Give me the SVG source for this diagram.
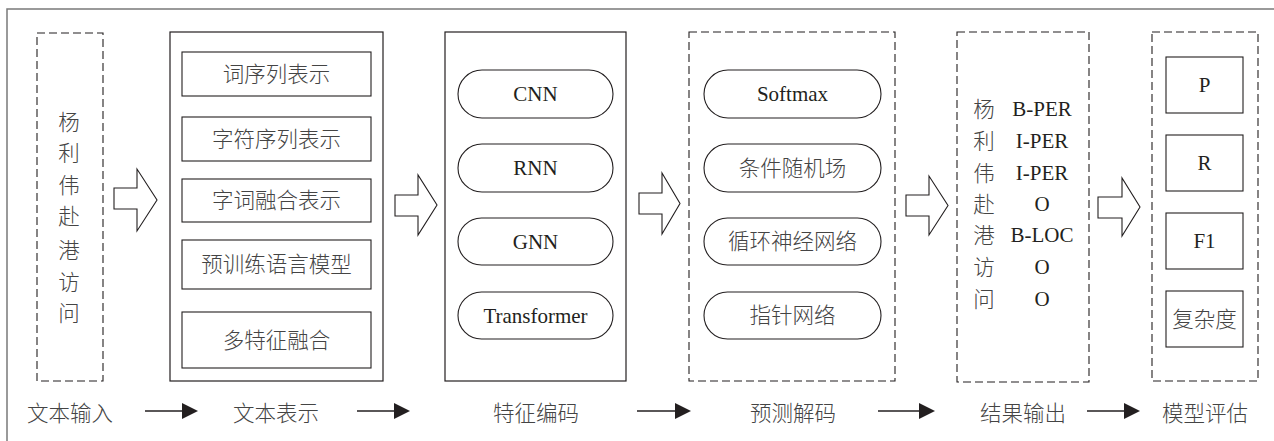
<svg xmlns="http://www.w3.org/2000/svg" width="1274" height="441" viewBox="0 0 1274 441">
  <style>
    .frame { fill: none; stroke: #7a7a7a; stroke-width: 1.5; }
    .solid { fill: #ffffff; stroke: #231f20; stroke-width: 1.2; }
    .dash { fill: #ffffff; stroke: #231f20; stroke-width: 1.1; stroke-dasharray: 8 4; }
    .item { fill: #ffffff; stroke: #231f20; stroke-width: 1.1; }
    .flow { fill: #ffffff; stroke: #231f20; stroke-width: 1.1; stroke-linejoin: miter; }
    .cn { font-family: "Noto Sans CJK SC", "Noto Sans", sans-serif; font-size: 21.5px; font-weight: 300; fill: #444444; text-anchor: middle; }
    .en { font-family: "Liberation Serif", "Times New Roman", serif; font-size: 21px; fill: #231f20; text-anchor: middle; }
    .line { stroke: #231f20; stroke-width: 1.5; fill: none; }
  </style>
  <defs>
    <marker id="tri" viewBox="0 0 16 16" refX="0" refY="8" markerWidth="16" markerHeight="16" markerUnits="userSpaceOnUse" orient="auto">
      <path d="M0,0 L16,8 L0,16 Z" fill="#231f20"/>
    </marker>
  </defs>

  <rect width="1274" height="441" fill="#ffffff"/>
  <!-- outer frame -->
  <rect class="frame" x="7" y="9" width="1290" height="460"/>

  <!-- input text -->
  <g id="input">
    <rect class="dash" x="37" y="33" width="66" height="348"/>
    <text class="cn" x="69" y="130">杨</text>
    <text class="cn" x="69" y="161">利</text>
    <text class="cn" x="69" y="193">伟</text>
    <text class="cn" x="69" y="224">赴</text>
    <text class="cn" x="69" y="258">港</text>
    <text class="cn" x="69" y="290">访</text>
    <text class="cn" x="69" y="321">问</text>
  </g>

  <!-- text representation -->
  <g id="representation">
    <rect class="solid" x="170" y="32" width="213" height="349"/>
    <rect class="item" x="182" y="52" width="189" height="44"/>
    <text class="cn" x="276.5" y="82">词序列表示</text>
    <rect class="item" x="182" y="117" width="189" height="44"/>
    <text class="cn" x="276.5" y="147">字符序列表示</text>
    <rect class="item" x="182" y="179" width="189" height="43"/>
    <text class="cn" x="276.5" y="208">字词融合表示</text>
    <rect class="item" x="182" y="240" width="189" height="49"/>
    <text class="cn" x="276.5" y="272">预训练语言模型</text>
    <rect class="item" x="182" y="312" width="189" height="56"/>
    <text class="cn" x="276.5" y="348">多特征融合</text>
  </g>

  <!-- feature encoding -->
  <g id="encoding">
    <rect class="solid" x="445" y="32" width="181" height="349"/>
    <rect class="item" x="458" y="70" width="155" height="48" rx="24"/>
    <text class="en" x="535.5" y="101">CNN</text>
    <rect class="item" x="458" y="144" width="155" height="48" rx="24"/>
    <text class="en" x="535.5" y="175">RNN</text>
    <rect class="item" x="458" y="218" width="155" height="47" rx="23.5"/>
    <text class="en" x="535.5" y="249">GNN</text>
    <rect class="item" x="458" y="292" width="155" height="47" rx="23.5"/>
    <text class="en" x="535.5" y="323">Transformer</text>
  </g>

  <!-- prediction decoding -->
  <g id="decoding">
    <rect class="dash" x="689" y="32" width="206" height="349"/>
    <rect class="item" x="704" y="70" width="177" height="48" rx="24"/>
    <text class="en" x="792.5" y="101">Softmax</text>
    <rect class="item" x="704" y="144" width="177" height="48" rx="24"/>
    <text class="cn" x="792.5" y="175.5">条件随机场</text>
    <rect class="item" x="704" y="218" width="177" height="47" rx="23.5"/>
    <text class="cn" x="792.5" y="249">循环神经网络</text>
    <rect class="item" x="704" y="292" width="177" height="47" rx="23.5"/>
    <text class="cn" x="792.5" y="323">指针网络</text>
  </g>

  <!-- result output -->
  <g id="output">
    <rect class="dash" x="957" y="32" width="132" height="350"/>
    <text class="cn" x="984" y="117">杨</text>
    <text class="en" x="1042" y="116">B-PER</text>
    <text class="cn" x="984" y="149">利</text>
    <text class="en" x="1042" y="148">I-PER</text>
    <text class="cn" x="984" y="181">伟</text>
    <text class="en" x="1042" y="180">I-PER</text>
    <text class="cn" x="984" y="212">赴</text>
    <text class="en" x="1042" y="211">O</text>
    <text class="cn" x="984" y="243">港</text>
    <text class="en" x="1042" y="242">B-LOC</text>
    <text class="cn" x="984" y="275">访</text>
    <text class="en" x="1042" y="274">O</text>
    <text class="cn" x="984" y="307">问</text>
    <text class="en" x="1042" y="306">O</text>
  </g>

  <!-- model evaluation -->
  <g id="evaluation">
    <rect class="dash" x="1152" y="32" width="106" height="349"/>
    <rect class="item" x="1166" y="57" width="77" height="56"/>
    <text class="en" x="1204.5" y="92">P</text>
    <rect class="item" x="1166" y="135" width="77" height="56"/>
    <text class="en" x="1204.5" y="170">R</text>
    <rect class="item" x="1166" y="213" width="77" height="56"/>
    <text class="en" x="1204.5" y="248">F1</text>
    <rect class="item" x="1166" y="291" width="77" height="56"/>
    <text class="cn" x="1204.5" y="327">复杂度</text>
  </g>

  <!-- stage captions -->
  <g id="captions">
    <text class="cn" x="70" y="421">文本输入</text>
    <text class="cn" x="276" y="421">文本表示</text>
    <text class="cn" x="536" y="421">特征编码</text>
    <text class="cn" x="793" y="421">预测解码</text>
    <text class="cn" x="1023" y="421">结果输出</text>
    <text class="cn" x="1205" y="421">模型评估</text>
  </g>

  <!-- connectors -->
  <g id="connectors">
    <!-- block arrows between stages -->
    <polygon class="flow" points="114,188 137,188 137,169 157,200 137,231 137,209 114,209"/>
    <polygon class="flow" points="395,195 418,195 418,175 437,205 418,235 418,216 395,216"/>
    <polygon class="flow" points="639,193 662,193 662,173 680,203.5 662,234 662,214 639,214"/>
    <polygon class="flow" points="906,195 929,195 929,176 948,205.5 929,235 929,216 906,216"/>
    <polygon class="flow" points="1098,197 1122,197 1122,178 1140,207 1122,236 1122,218 1098,218"/>
    <!-- caption arrows -->
    <line class="line" x1="145" y1="411" x2="182" y2="411" marker-end="url(#tri)"/>
    <line class="line" x1="357" y1="411" x2="394" y2="411" marker-end="url(#tri)"/>
    <line class="line" x1="637" y1="411" x2="675" y2="411" marker-end="url(#tri)"/>
    <line class="line" x1="878" y1="411" x2="919" y2="411" marker-end="url(#tri)"/>
    <line class="line" x1="1087" y1="411" x2="1124" y2="411" marker-end="url(#tri)"/>
  </g>
</svg>
